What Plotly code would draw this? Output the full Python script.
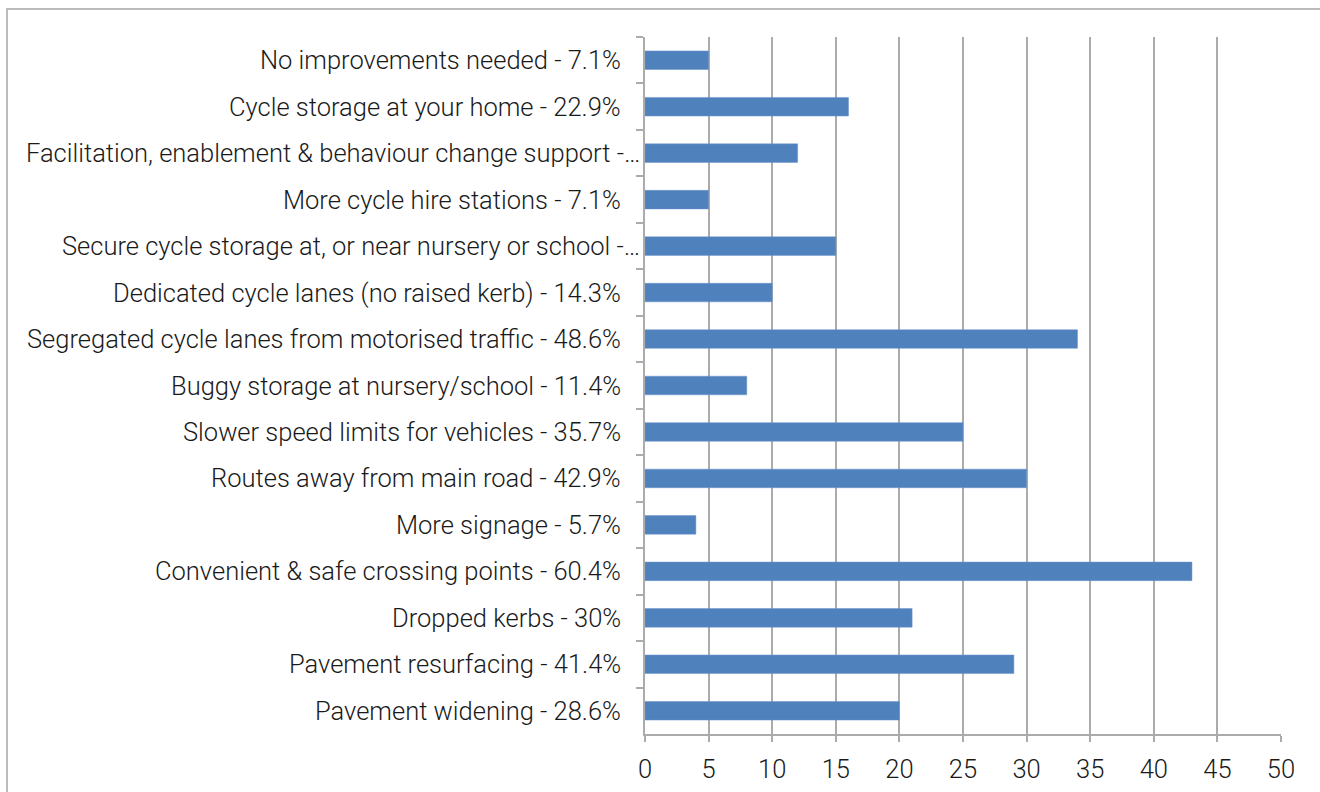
import plotly.graph_objects as go

# Survey responses: improvement options (label includes share of respondents)
categories = [
    "No improvements needed - 7.1%",
    "Cycle storage at your home - 22.9%",
    "Facilitation, enablement & behaviour change support -…",
    "More cycle hire stations - 7.1%",
    "Secure cycle storage at, or near nursery or school -…",
    "Dedicated cycle lanes (no raised kerb) - 14.3%",
    "Segregated cycle lanes from motorised traffic - 48.6%",
    "Buggy storage at nursery/school - 11.4%",
    "Slower speed limits for vehicles - 35.7%",
    "Routes away from main road - 42.9%",
    "More signage - 5.7%",
    "Convenient & safe crossing points - 60.4%",
    "Dropped kerbs - 30%",
    "Pavement resurfacing - 41.4%",
    "Pavement widening - 28.6%",
]
counts = [5, 16, 12, 5, 15, 10, 34, 8, 25, 30, 4, 43, 21, 29, 20]
x_ticks = [0, 5, 10, 15, 20, 25, 30, 35, 40, 45, 50]

font_family = "Roboto"
label_font = dict(family=font_family, size=25.5, color="#1A1A1A", weight=300)
grey = "#ABABAB"

fig = go.Figure(
    go.Bar(
        x=counts,
        y=categories,
        orientation="h",
        marker=dict(color="#4F81BD", line=dict(color="#6A95CC", width=0.5)),
        width=0.4,
    )
)

# Category labels drawn as annotations so truncated ("…") labels can sit
# closer to the axis, the way spreadsheet charts clip long labels.
label_annotations = [
    dict(
        text=cat,
        xref="paper",
        yref="y",
        x=0,
        y=cat,
        xanchor="right",
        yanchor="middle",
        xshift=-3 if cat.endswith("…") else -22,
        showarrow=False,
        font=label_font,
    )
    for cat in categories
]

fig.update_layout(
    width=1320,
    height=792,
    paper_bgcolor="white",
    plot_bgcolor="white",
    margin=dict(l=645, r=39, t=37, b=58),
    showlegend=False,
    font=label_font,
    annotations=label_annotations,
    shapes=[
        dict(
            type="rect",
            xref="paper",
            yref="paper",
            x0=-638 / 636,
            x1=1.2,
            y0=-0.2,
            y1=(734 - 9) / 697,
            line=dict(color="#A6A6A6", width=1.5),
            fillcolor="rgba(0,0,0,0)",
            layer="below",
        )
    ],
)

fig.update_xaxes(
    range=[0, 50],
    tickvals=x_ticks,
    ticktext=[str(v) for v in x_ticks],
    showgrid=True,
    gridcolor=grey,
    gridwidth=1.5,
    showline=True,
    linecolor=grey,
    linewidth=1.5,
    ticks="outside",
    ticklen=6,
    tickcolor=grey,
    tickwidth=1.5,
    ticklabelstandoff=6,
    tickfont=label_font,
    zeroline=False,
    automargin=False,
    fixedrange=True,
)

fig.update_yaxes(
    categoryorder="array",
    categoryarray=categories,
    autorange="reversed",
    showline=True,
    linecolor=grey,
    linewidth=1.5,
    ticks="outside",
    tickson="boundaries",
    ticklen=7,
    tickcolor=grey,
    tickwidth=1.5,
    showticklabels=False,
    showgrid=False,
    automargin=False,
    fixedrange=True,
)

fig.write_html("out.html")
